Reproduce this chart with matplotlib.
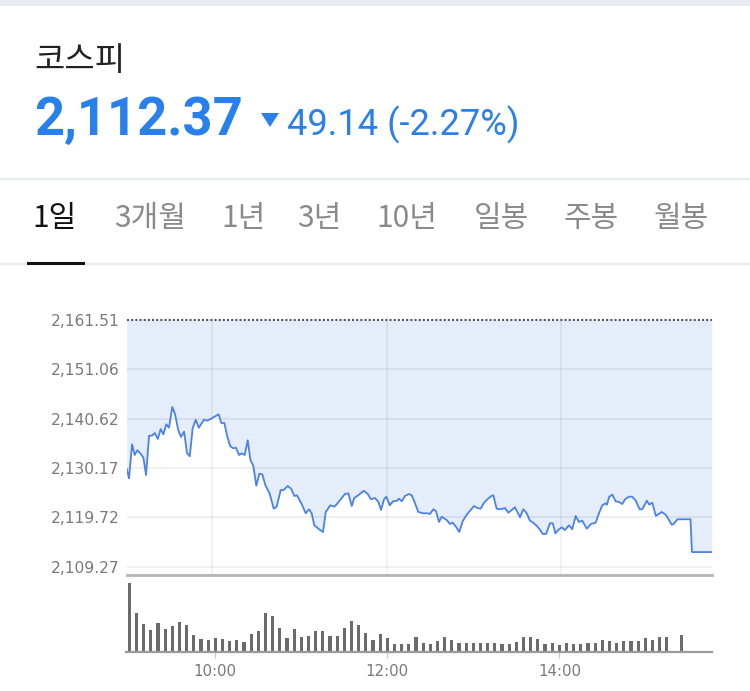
import matplotlib
matplotlib.use("Agg")
import matplotlib.pyplot as plt
from matplotlib.patches import Polygon, Rectangle
from matplotlib.lines import Line2D

W, H, DPI = 750, 691, 100

# ---------------- data ----------------
index_name = "코스피"
last_price = "2,112.37"
change_text = "49.14 (-2.27%)"
tabs = ["1일", "3개월", "1년", "3년", "10년", "일봉", "주봉", "월봉"]
prev_close = 2161.51
y_ticks = [2109.27, 2119.72, 2130.17, 2140.62, 2151.06, 2161.51]
y_tick_labels = ["2,109.27", "2,119.72", "2,130.17", "2,140.62", "2,151.06", "2,161.51"]
time_ticks = [60, 180, 300]            # minutes after 09:00
time_tick_labels = ["10:00", "12:00", "14:00"]

minutes = [1.0, 2.6, 4.7, 6.5, 8.3, 10.2, 12.5, 14.3, 16.4, 18.4,
           20.3, 22.4, 24.4, 26.2, 28.3, 30.1, 32.4, 34.3, 36.5, 38.4,
           40.5, 42.5, 44.4, 46.4, 48.5, 50.6, 54.2, 56.5, 59.5, 64.3,
           66.1, 68.2, 70.3, 72.3, 74.4, 76.2, 78.3, 80.2, 82.2, 84.3,
           86.1, 88.1, 90.2, 92.3, 94.3, 96.4, 99.4,
           102.2, 104.2, 107.0, 109.1, 111.8, 114.1, 116.4, 118.2, 121.4, 124.2,
           126.5, 128.3, 130.1, 133.4, 136.1, 138.0, 141.1, 143.9, 145.7, 149.0,
           151.2, 153.5, 155.9, 157.6, 160.9, 164.1, 166.9, 169.1, 171.9, 174.2,
           176.0, 178.1, 179.7, 182.0, 184.3, 187.0, 188.4, 190.3, 192.5, 195.3,
           197.1,
           198.2, 201.7, 205.1, 207.9, 209.7, 212.0, 213.9, 215.9, 217.8, 221.2,
           223.5, 225.3, 227.6, 229.9, 232.2, 235.0, 237.7, 240.0, 242.3, 244.6,
           246.9, 249.2, 251.9, 253.3, 255.6, 258.4, 261.3, 263.6, 266.0, 268.2,
           270.1, 271.7, 273.9, 276.3, 278.5, 280.8, 283.2, 284.9, 287.3, 289.6,
           292.3, 294.2, 296.0, 298.0,
           300.4, 302.6, 305.4, 307.6, 310.0, 312.2, 314.5, 317.6, 320.5, 323.7,
           326.0, 328.3, 330.6, 331.5, 333.1, 335.2, 337.5, 339.8, 342.1, 343.9,
           346.7, 348.9, 351.3, 354.0, 355.8, 359.0, 360.6, 362.7, 365.2, 369.2,
           371.9, 374.2, 376.1, 377.4, 380.0, 389.0, 390.0, 403.6]

prices = [2129.96, 2127.99, 2135.19, 2132.92, 2133.92, 2133.35, 2132.35, 2128.69, 2137.01, 2137.01,
          2137.58, 2136.31, 2138.43, 2137.31, 2139.42, 2138.70, 2143.09, 2141.54, 2138.15, 2136.74,
          2137.86, 2133.35, 2132.65, 2138.58, 2140.40, 2138.70, 2140.40, 2140.19, 2140.69, 2141.54,
          2139.70, 2139.70, 2136.74, 2134.77, 2134.34, 2134.47, 2132.92, 2133.28, 2132.92, 2136.04,
          2131.93, 2130.66, 2126.42, 2128.96, 2128.84, 2126.57, 2124.73,
          2121.55, 2121.98, 2125.51, 2125.51, 2126.36, 2125.79, 2124.24, 2124.39, 2122.55, 2120.58,
          2121.43, 2120.58, 2118.04, 2117.19, 2116.62, 2120.85, 2122.27, 2121.98, 2122.55, 2123.82,
          2124.67, 2124.81, 2122.12, 2123.82, 2124.52, 2125.36, 2124.67, 2123.54, 2123.82, 2122.97,
          2121.28, 2123.54, 2124.09, 2122.27, 2123.12, 2123.25, 2123.67, 2123.12, 2124.24, 2124.67,
          2124.39,
          2123.67, 2120.85, 2120.58, 2120.58, 2120.43, 2121.43, 2121.00, 2118.74, 2119.86, 2119.16,
          2118.31, 2118.59, 2117.74, 2116.62, 2118.88, 2120.28, 2121.28, 2122.12, 2121.70, 2121.55,
          2122.82, 2123.54, 2124.24, 2124.39, 2121.55, 2121.43, 2121.70, 2120.71, 2121.28, 2121.85,
          2120.71, 2119.73, 2121.43, 2120.58, 2119.01, 2118.59, 2117.89, 2117.32, 2116.20, 2116.20,
          2118.46, 2118.46, 2116.34, 2117.04,
          2117.61, 2117.04, 2118.04, 2117.19, 2120.01, 2118.74, 2119.01, 2117.32, 2118.31, 2118.59,
          2120.58, 2122.27, 2122.70, 2122.40, 2124.09, 2124.52, 2123.12, 2122.97, 2122.55, 2123.54,
          2124.09, 2124.09, 2123.25, 2121.43, 2121.43, 2123.25, 2122.40, 2122.82, 2120.01, 2120.85,
          2120.28, 2119.16, 2118.16, 2118.31, 2119.31, 2119.31, 2112.37, 2112.37]

volume_minutes = [5 * i for i in range(76)] + [385]
volumes = [69, 39, 28, 22, 29, 23, 26, 30, 27, 17, 13, 12, 14, 13, 11, 12, 10, 18, 21, 39,
           36, 24, 14, 23, 15, 16, 21, 21, 16, 16, 24, 31, 27, 19, 12, 18, 14, 8, 8, 8,
           15, 9, 8, 11, 15, 12, 9, 9, 9, 9, 9, 9, 8, 8, 10, 15, 15, 13, 8, 9,
           7, 9, 8, 8, 9, 9, 12, 11, 9, 11, 11, 11, 14, 12, 15, 15, 17]

# ---------------- styling ----------------
BLUE = "#2a80ea"
LINE_BLUE = "#4a82ea"
FILL = "#e4edf9"
TICK_GRAY = "#7a7a7a"
KR = ["Noto Sans CJK KR", "DejaVu Sans"]


def fx(x):
    return x / W


def fy(y):
    return 1 - y / H


def pt(px):
    return px * 72.0 / DPI


fig = plt.figure(figsize=(W / DPI, H / DPI), dpi=DPI, facecolor="white")

# header decorations
fig.add_artist(Rectangle((0, fy(6)), 1, 6 / H, transform=fig.transFigure,
                         color="#e9ecef", lw=0))
fig.add_artist(Line2D([0, 1], [fy(179), fy(179)], transform=fig.transFigure,
                      color="#e9ecef", lw=1.6))
fig.add_artist(Line2D([0, 1], [fy(264), fy(264)], transform=fig.transFigure,
                      color="#e9ecef", lw=1.6))
fig.add_artist(Line2D([fx(28), fx(83)], [fy(263), fy(263)], transform=fig.transFigure,
                      color="#111111", lw=2.2))

fig.text(fx(34), fy(70), index_name, family=KR, fontsize=pt(33), color="#222222",
         va="baseline", ha="left", fontweight="medium")
fig.text(fx(34), fy(135), last_price, family=["Roboto", "DejaVu Sans"], fontsize=pt(52.5),
         color=BLUE, va="baseline", ha="left", fontweight="bold")
fig.add_artist(Polygon([(fx(261), fy(113)), (fx(279), fy(113)), (fx(270), fy(127))],
                       closed=True, transform=fig.transFigure, color=BLUE, lw=0))
fig.text(fx(287), fy(135), change_text, family=["Roboto", "DejaVu Sans"], fontsize=pt(36.3),
         color=BLUE, va="baseline", ha="left")

tab_centers = [54.5, 150, 243, 319.5, 407, 502, 591, 681.5]
for i, (lab, cx) in enumerate(zip(tabs, tab_centers)):
    fig.text(fx(cx), fy(219), lab, family=KR, fontsize=pt(30),
             color="#111111" if i == 0 else "#8a8a8a", ha="center", va="center")

# ---------------- main price chart ----------------
ax_left, ax_right = 126.7, 711.7
ax_top, ax_bottom = 316.0, 575.0
ax = fig.add_axes([fx(ax_left), fy(ax_bottom), (ax_right - ax_left) / W,
                   (ax_bottom - ax_top) / H])
ax.set_facecolor("none")
ax.set_xlim(1.0, 403.6)
ax.set_ylim(2107.51, 2162.36)

ax.fill_between(minutes, prices, prev_close, color=FILL, lw=0, zorder=1)
for yv in y_ticks[:-1]:
    ax.axhline(yv, color="black", alpha=0.075, lw=1.2, zorder=1.5)
for tv in time_ticks:
    ax.axvline(tv, color="black", alpha=0.06, lw=1.2, zorder=1.5)
ax.axhline(prev_close, color="#555555", lw=1.5, linestyle=(0, (1, 1)), zorder=2)
ax.plot(minutes, prices, color=LINE_BLUE, lw=1.3, zorder=3, solid_joinstyle="round")

ax.set_yticks(y_ticks)
ax.set_yticklabels(y_tick_labels)
ax.tick_params(axis="y", length=0, pad=pt(7), labelsize=pt(15.5), labelcolor=TICK_GRAY)
ax.set_xticks([])
for s in ["left", "right", "top"]:
    ax.spines[s].set_visible(False)
ax.spines["bottom"].set_color("#b4b4b4")
ax.spines["bottom"].set_linewidth(2.0)

# ---------------- volume chart ----------------
v_left, v_right = 126.0, 711.7
v_top, v_bottom = 577.0, 652.0
vx0 = -2.3
vx1 = 406.3
axv = fig.add_axes([fx(v_left), fy(v_bottom), (v_right - v_left) / W,
                    (v_bottom - v_top) / H])
axv.set_facecolor("none")
axv.set_xlim(vx0, vx1)
axv.set_ylim(0, 75)
axv.bar(volume_minutes, volumes, width=2.2, color="#6b6b6b", lw=0, align="center")
axv.set_yticks([])
axv.set_xticks(time_ticks)
axv.set_xticklabels(time_tick_labels)
axv.tick_params(axis="x", length=4, width=1, color="#cccccc", pad=pt(6),
                labelsize=pt(15), labelcolor=TICK_GRAY)
for s in ["left", "right", "top"]:
    axv.spines[s].set_visible(False)
axv.spines["bottom"].set_color("#9a9a9a")
axv.spines["bottom"].set_linewidth(1.6)

fig.savefig("out.png", dpi=DPI, facecolor="white")
